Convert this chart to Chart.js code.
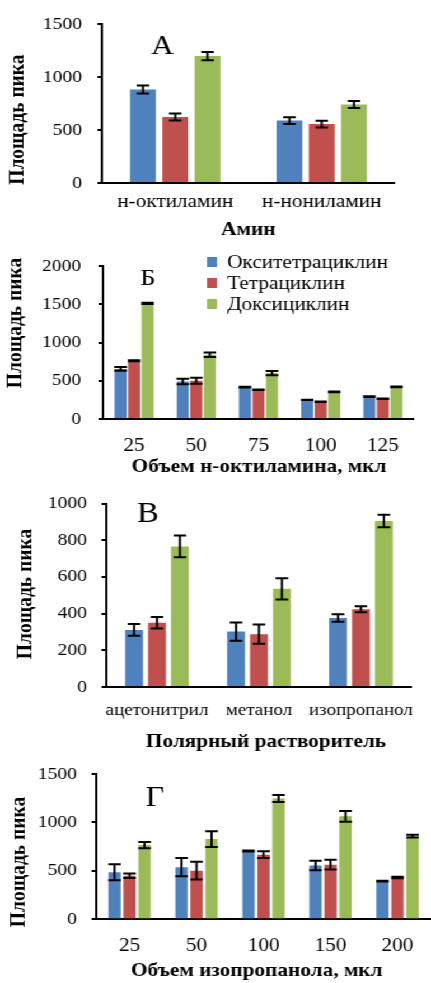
<!DOCTYPE html>
<html>
<head>
<meta charset="utf-8">
<script src="https://cdn.jsdelivr.net/npm/chart.js@4.4.1/dist/chart.umd.min.js"></script>
<style>
  html, body { margin: 0; padding: 0; background: #fff; width: 431px; height: 983px; overflow: hidden; }
  /* the figure is laid out 385px wide and widened to the page width */
  #stage { position: absolute; left: 0; top: 0; width: 385px; height: 990px;
           transform: scaleX(1.1195); transform-origin: 0 0; }
  .panel { position: absolute; left: 0; width: 385px; }
  .panel canvas { display: block; }
</style>
</head>
<body>
<div id="stage">
  <div class="panel" style="top:0;height:240px"><canvas id="chartA"></canvas></div>
  <div class="panel" style="top:240px;height:240px"><canvas id="chartB"></canvas></div>
  <div class="panel" style="top:480px;height:275px"><canvas id="chartC"></canvas></div>
  <div class="panel" style="top:745px;height:245px"><canvas id="chartD"></canvas></div>
</div>
<script>
// Series shared by all four panels
const seriesNames = ['Окситетрациклин', 'Тетрациклин', 'Доксициклин'];
const seriesColors = ['#4F81BD', '#C0504D', '#9BBB59'];
const yAxisTitle = 'Площадь пика';

// А — amine
const aminLabels = ['н-октиламин', 'н-нониламин'];
const aminOxy = [885, 590];
const aminOxyErr = [38, 33];
const aminTet = [625, 557];
const aminTetErr = [33, 32];
const aminDox = [1200, 743];
const aminDoxErr = [38, 33];
const aminTicks = [0, 500, 1000, 1500];

// Б — n-octylamine volume
const octVolumes = ['25', '50', '75', '100', '125'];
const octOxy = [655, 490, 417, 250, 292];
const octOxyErr = [25, 37, 4, 3, 4];
const octTet = [762, 500, 383, 226, 264];
const octTetErr = [5, 40, 4, 3, 4];
const octDox = [1512, 841, 601, 355, 419];
const octDoxErr = [8, 30, 28, 4, 5];
const octTicks = [0, 500, 1000, 1500, 2000];

// В — polar solvent
const solventLabels = ['ацетонитрил', 'метанол', 'изопропанол'];
const solvOxy = [311, 302, 376];
const solvOxyErr = [32, 50, 21];
const solvTet = [350, 288, 424];
const solvTetErr = [31, 52, 16];
const solvDox = [766, 535, 905];
const solvDoxErr = [59, 58, 34];
const solvTicks = [0, 200, 400, 600, 800, 1000];

// Г — isopropanol volume
const isoVolumes = ['25', '50', '100', '150', '200'];
const isoOxy = [486, 538, 705, 556, 394];
const isoOxyErr = [83, 94, 6, 49, 5];
const isoTet = [450, 502, 667, 564, 432];
const isoTetErr = [23, 92, 35, 50, 8];
const isoDox = [766, 828, 1247, 1063, 858];
const isoDoxErr = [33, 82, 35, 56, 14];
const isoTicks = [0, 500, 1000, 1500];

const SERIF = "'Liberation Serif', 'Times New Roman', serif";
const STAGE_W = 385;

// Error bars: vertical whisker with caps, taken from dataset.errors
const errorBars = {
  id: 'errorBars',
  afterDatasetsDraw(chart, args, opts) {
    const ctx = chart.ctx;
    const yScale = chart.scales.y;
    chart.data.datasets.forEach((ds, i) => {
      const meta = chart.getDatasetMeta(i);
      meta.data.forEach((bar, j) => {
        const v = ds.data[j], e = ds.errors[j];
        const yt = yScale.getPixelForValue(v + e);
        const yb = yScale.getPixelForValue(v - e);
        const x = bar.x, hw = opts.cap;
        ctx.save();
        ctx.strokeStyle = '#000';
        ctx.lineWidth = 2;
        ctx.beginPath();
        ctx.moveTo(x, yt); ctx.lineTo(x, yb);
        ctx.moveTo(x - hw, yt); ctx.lineTo(x + hw, yt);
        ctx.moveTo(x - hw, yb); ctx.lineTo(x + hw, yb);
        ctx.stroke();
        ctx.restore();
      });
    });
  }
};

// Panel letter, axis titles and (optionally) the series key
const decorations = {
  id: 'decorations',
  afterDraw(chart, args, o) {
    const ctx = chart.ctx;
    ctx.save();
    ctx.fillStyle = '#000';
    ctx.font = o.letterSize + 'px ' + SERIF;
    ctx.textAlign = 'center';
    ctx.textBaseline = 'alphabetic';
    ctx.fillText(o.letter, o.letterX, o.letterY);

    ctx.font = 'bold 19px ' + SERIF;
    ctx.fillText(o.xTitle, o.xTitleX, o.xTitleY);
    ctx.save();
    ctx.translate(o.yTitleX, o.yTitleY);
    ctx.rotate(-Math.PI / 2);
    ctx.textBaseline = 'middle';
    ctx.font = 'bold 19.5px ' + SERIF;
    ctx.fillText(yAxisTitle, 0, 0);
    ctx.restore();

    if (o.legend) {
      ctx.font = '19px ' + SERIF;
      ctx.textAlign = 'left';
      ctx.textBaseline = 'middle';
      chart.data.datasets.forEach((ds, i) => {
        const cy = o.legendY + i * o.legendStep;
        ctx.fillStyle = ds.backgroundColor;
        ctx.fillRect(o.legendX, cy - 5, 9, 10);
        ctx.fillStyle = '#000';
        ctx.fillText(ds.label, o.legendX + 18, cy + 1);
      });
    }
    ctx.restore();
  }
};

function buildPanel(cfg) {
  const H = cfg.height;
  return new Chart(document.getElementById(cfg.id), {
    type: 'bar',
    data: {
      labels: cfg.labels,
      datasets: cfg.series.map((s, i) => ({
        label: seriesNames[i],
        data: s[0],
        errors: s[1],
        backgroundColor: seriesColors[i],
        borderWidth: 0,
        categoryPercentage: cfg.catPct,
        barPercentage: cfg.barPct
      }))
    },
    options: {
      responsive: true,
      maintainAspectRatio: false,
      animation: false,
      events: [],
      layout: { padding: { top: cfg.area.top, right: STAGE_W - cfg.area.right, left: 0, bottom: 0 } },
      plugins: {
        legend: { display: false },
        tooltip: { enabled: false },
        errorBars: { cap: 5.6 },
        decorations: cfg.deco
      },
      scales: {
        x: {
          grid: { display: false, drawTicks: false },
          border: { display: true, color: '#000', width: 2 },
          ticks: { color: '#000', font: { family: SERIF, size: cfg.xTickSize }, padding: cfg.xTickPad, maxRotation: 0, autoSkip: false },
          afterFit(s) { s.height = H - cfg.area.bottom; }
        },
        y: {
          min: 0,
          max: cfg.yTicks[cfg.yTicks.length - 1],
          afterBuildTicks(s) { s.ticks = cfg.yTicks.map(v => ({ value: v })); },
          grid: { drawOnChartArea: false, drawTicks: true, tickLength: 4, color: '#000', lineWidth: 2 },
          border: { display: true, color: '#000', width: 2 },
          ticks: { color: '#000', font: { family: SERIF, size: 17.5 }, padding: cfg.yTickPad,
                   callback: v => String(v) },
          afterFit(s) { s.width = cfg.area.left; }
        }
      }
    },
    plugins: [errorBars, decorations]
  });
}

buildPanel({
  id: 'chartA', height: 240,
  area: { left: 91.1, right: 352.8, top: 17.5, bottom: 183 },
  labels: aminLabels,
  series: [[aminOxy, aminOxyErr], [aminTet, aminTetErr], [aminDox, aminDoxErr]],
  yTicks: aminTicks,
  catPct: 0.661, barPct: 0.80,
  xTickSize: 19, xTickPad: 8, yTickPad: 13.9,
  deco: { letter: 'А', letterSize: 28, letterX: 145.2, letterY: 54.3,
          xTitle: 'Амин', xTitleX: 221.8, xTitleY: 235,
          yTitleX: 15.6, yTitleY: 119.6, legend: false }
});

buildPanel({
  id: 'chartB', height: 240,
  area: { left: 92, right: 369.8, top: 14, bottom: 179 },
  labels: octVolumes,
  series: [[octOxy, octOxyErr], [octTet, octTetErr], [octDox, octDoxErr]],
  yTicks: octTicks,
  catPct: 0.652, barPct: 0.89,
  xTickSize: 19, xTickPad: 16, yTickPad: 15.6,
  deco: { letter: 'Б', letterSize: 24, letterX: 132.2, letterY: 45,
          xTitle: 'Объем н-октиламина, мкл', xTitleX: 231.4, xTitleY: 232,
          yTitleX: 13.8, yTitleY: 83,
          legend: true, legendX: 184.9, legendY: 22, legendStep: 21 }
});

buildPanel({
  id: 'chartC', height: 275,
  area: { left: 94.7, right: 368.9, top: 18, bottom: 207 },
  labels: solventLabels,
  series: [[solvOxy, solvOxyErr], [solvTet, solvTetErr], [solvDox, solvDoxErr]],
  yTicks: solvTicks,
  catPct: 0.674, barPct: 0.78,
  xTickSize: 17, xTickPad: 13.5, yTickPad: 13,
  deco: { letter: 'В', letterSize: 29, letterX: 132.2, letterY: 42.3,
          xTitle: 'Полярный растворитель', xTitleX: 237.6, xTitleY: 267,
          yTitleX: 23.2, yTitleY: 114, legend: false }
});

buildPanel({
  id: 'chartD', height: 245,
  area: { left: 85.8, right: 385, top: 29, bottom: 174.3 },
  labels: isoVolumes,
  series: [[isoOxy, isoOxyErr], [isoTet, isoTetErr], [isoDox, isoDoxErr]],
  yTicks: isoTicks,
  catPct: 0.672, barPct: 0.82,
  xTickSize: 19, xTickPad: 15.6, yTickPad: 13,
  deco: { letter: 'Г', letterSize: 29, letterX: 138.5, letterY: 61,
          xTitle: 'Объем изопропанола, мкл', xTitleX: 229.3, xTitleY: 231,
          yTitleX: 17.4, yTitleY: 117, legend: false }
});
</script>
</body>
</html>
